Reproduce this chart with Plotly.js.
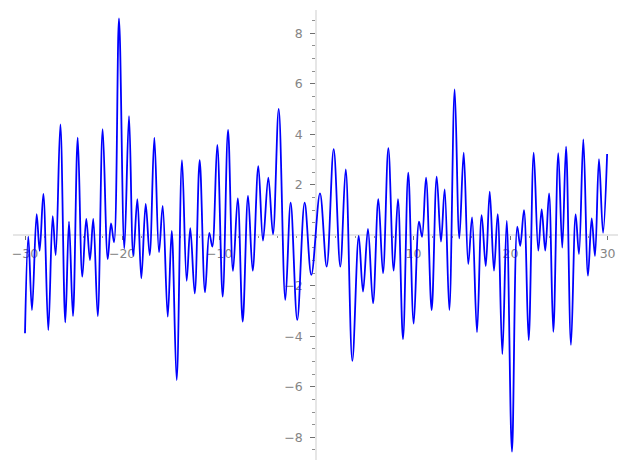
<!DOCTYPE html>
<html>
<head>
<meta charset="utf-8">
<script src="https://cdn.plot.ly/plotly-3.0.1.min.js"></script>
<style>
  html, body { margin: 0; padding: 0; background: #ffffff; }
  #chart { width: 627px; height: 470px; }
</style>
</head>
<body>
<div id="chart"></div>
<script>
// Local extrema of the plotted curve
const curveX = [
  -30.00, -29.66, -29.28, -28.80, -28.49, -28.11, -27.60, -27.15, -26.84, -26.36,
  -25.85, -25.47, -25.06, -24.57, -24.10, -23.69, -23.31, -22.97, -22.51, -22.00,
  -21.48, -21.14, -20.83, -20.32, -19.77, -19.29, -18.85, -18.43, -18.02, -17.57,
  -17.16, -16.68, -16.20, -15.82, -15.30, -14.89, -14.38, -13.83, -13.35, -12.98,
  -12.52, -12.01, -11.46, -11.02, -10.71, -10.20, -9.64, -9.09, -8.58, -8.09,
  -7.58, -7.03, -6.55, -5.97, -5.49, -4.94, -4.46, -3.87, -3.19, -2.64,
  -1.96, -1.20, -0.51, 0.38, 1.07, 1.79, 2.47, 3.03, 3.71, 4.37,
  4.81, 5.32, 5.84, 6.39, 6.87, 7.42, 7.97, 8.41, 8.93, 9.47,
  10.03, 10.58, 10.89, 11.30, 11.88, 12.40, 12.84, 13.22, 13.70, 14.25,
  14.73, 15.18, 15.65, 16.04, 16.55, 17.03, 17.45, 17.86, 18.30, 18.68,
  19.16, 19.61, 20.15, 20.70, 21.00, 21.39, 21.87, 22.39, 22.86, 23.21,
  23.58, 23.97, 24.41, 24.92, 25.33, 25.72, 26.23, 26.71, 27.05, 27.50,
  27.98, 28.36, 28.70, 29.11, 29.53, 29.95
];
const curveY = [
  -3.88, -0.05, -2.96, 0.84, -0.61, 1.64, -3.75, 0.76, -0.78, 4.39,
  -3.45, 0.54, -3.20, 3.87, -1.64, 0.65, -0.98, 0.65, -3.20, 4.20,
  -0.94, 0.47, -0.28, 8.59, -0.52, 4.72, -0.81, 1.43, -1.70, 1.24,
  -0.78, 3.87, -0.67, 1.16, -3.22, 0.17, -5.73, 2.98, -1.80, 0.28,
  -2.30, 2.98, -2.26, 0.10, -0.45, 3.58, -2.43, 4.17, -1.41, 1.46,
  -3.42, 1.56, -1.40, 2.74, -0.21, 2.28, 0.04, 5.01, -2.56, 1.29,
  -3.35, 1.29, -1.57, 1.66, -1.24, 3.41, -1.24, 2.61, -4.97, -0.02,
  -2.23, 0.25, -2.69, 1.43, -1.50, 3.45, -1.40, 1.43, -4.11, 2.48,
  -3.50, 0.54, -0.06, 2.28, -2.96, 2.32, -0.25, 1.82, -2.96, 5.78,
  -0.12, 3.27, -1.14, 0.71, -3.84, 0.80, -1.22, 1.73, -1.40, 0.84,
  -4.70, 0.57, -8.57, 0.34, -0.42, 1.00, -4.15, 3.27, -0.61, 1.03,
  -0.61, 1.66, -3.82, 3.25, -0.49, 3.51, -4.34, 0.83, -0.74, 3.80,
  -1.60, 0.67, -0.82, 3.02, 0.10, 3.22
];
const xTickVals = [-30, -20, -10, 10, 20, 30];
const yTickVals = [-8, -6, -4, -2, 2, 4, 6, 8];

const axisFont = { family: 'DejaVu Sans, sans-serif', size: 12.5, color: '#858585' };

const trace = {
  x: curveX,
  y: curveY,
  type: 'scatter',
  mode: 'lines',
  line: { color: '#0000ff', width: 1.8, shape: 'spline', smoothing: 1 },
  hoverinfo: 'skip'
};

const layout = {
  width: 627,
  height: 470,
  margin: { l: 13, r: 9, t: 10, b: 10 },
  paper_bgcolor: '#ffffff',
  plot_bgcolor: '#ffffff',
  showlegend: false,
  xaxis: {
    range: [-31.236, 31.071],
    anchor: 'free',
    position: 0.5007,
    showgrid: false,
    zeroline: false,
    showline: true,
    linecolor: '#e6e6e6',
    linewidth: 2,
    tickmode: 'array',
    tickvals: xTickVals,
    ticks: 'outside',
    ticklen: 4,
    tickwidth: 1,
    tickcolor: '#707070',
    tickfont: axisFont,
    ticklabelstandoff: 3,
    minor: { dtick: 2, tick0: 0, ticks: 'outside', ticklen: 2, tickcolor: '#909090', tickwidth: 1 },
    layer: 'below traces',
    automargin: false
  },
  yaxis: {
    range: [-8.899, 8.923],
    anchor: 'free',
    position: 0.5013,
    showgrid: false,
    zeroline: false,
    showline: true,
    linecolor: '#e6e6e6',
    linewidth: 2,
    tickmode: 'array',
    tickvals: yTickVals,
    ticks: 'outside',
    ticklen: 5,
    tickwidth: 1,
    tickcolor: '#707070',
    tickfont: axisFont,
    ticklabelstandoff: 5,
    minor: { dtick: 0.5, tick0: 0, ticks: 'outside', ticklen: 3, tickcolor: '#909090', tickwidth: 1 },
    layer: 'below traces',
    automargin: false
  }
};

Plotly.newPlot('chart', [trace], layout, { displayModeBar: false, staticPlot: true });
</script>
</body>
</html>
